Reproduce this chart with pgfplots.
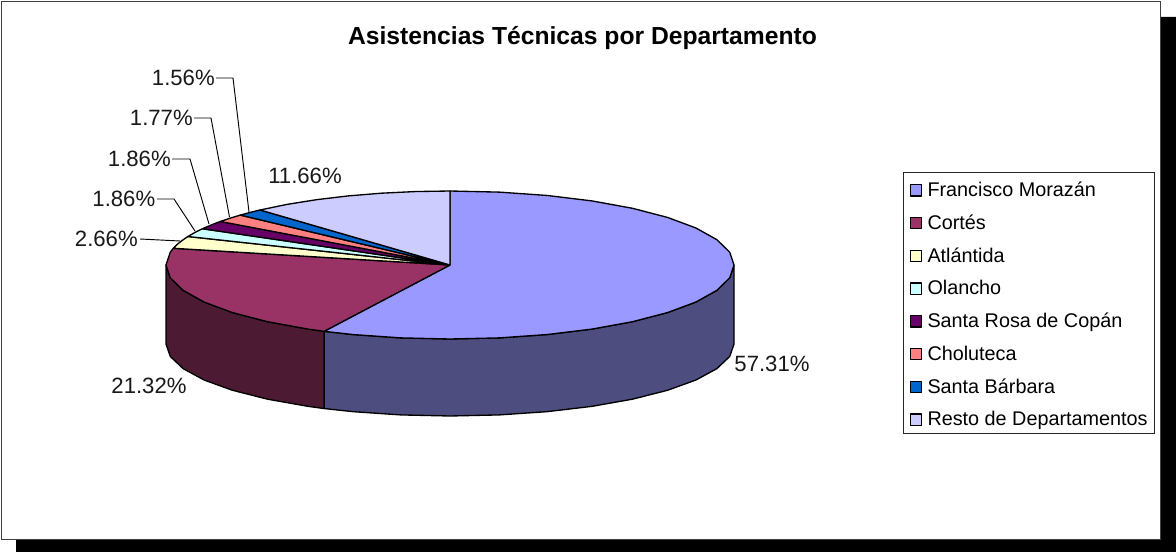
\documentclass[border=0pt]{standalone}
\usepackage{pgfplots}
\pgfplotsset{compat=1.18}
\usepackage{fontspec}
\setmainfont{Liberation Sans}
\definecolor{cFM}{HTML}{9999FF}
\definecolor{cCO}{HTML}{993366}
\definecolor{cAT}{HTML}{FFFFCC}
\definecolor{cOL}{HTML}{CCFFFF}
\definecolor{cSR}{HTML}{660066}
\definecolor{cCH}{HTML}{FF8080}
\definecolor{cSB}{HTML}{0066CC}
\definecolor{cRE}{HTML}{CCCCFF}
\definecolor{dFM}{HTML}{4D4D80}
\definecolor{dCO}{HTML}{4D1A33}
\pgfplotsset{
  /pgfplots/table/topxy/.style={x expr={450+284*\thisrow{r}*sin(\thisrow{a})}, y expr={265-74*\thisrow{r}*cos(\thisrow{a})}},
  /pgfplots/table/sidexy/.style={x expr={450+284*sin(\thisrow{a})}, y expr={265+79*\thisrow{z}-(74-2*\thisrow{z})*cos(\thisrow{a})}},
  slice/.style={fill=#1,draw=black,line width=1pt,line join=round},
  leader/.style={draw=black,line width=0.7pt,forget plot},
}
\tikzset{lab/.style={font=\fontsize{16.6}{18}\selectfont,inner sep=0pt,text=black!90}}
\begin{document}
\begin{tikzpicture}
\begin{axis}[
  scale only axis, width=882pt, height=414pt,
  xmin=0, xmax=1176, ymin=0, ymax=552, y dir=reverse,
  hide axis,
  title={Asistencias Técnicas por Departamento},
  title style={at={(axis cs:582.5,46)},anchor=center,yshift=0pt,inner sep=0pt,font=\fontsize{18.5}{22}\bfseries},
  legend cell align=left,
  legend style={at={(axis cs:902.5,172.5)},anchor=north west,draw=black!85,line width=0.6pt,fill=white,
    font=\fontsize{14.85}{18}\selectfont,row sep=10.05pt,inner xsep=5pt,inner ysep=4.4pt,
    nodes={inner sep=0pt,text height=13.5pt,text depth=1pt,anchor=west}},
  legend image code/.code={\draw[#1,line width=0.9pt] (0pt,-5.7pt) rectangle (8.4pt,2.7pt); \path[draw=none,fill=none] (0pt,0pt) -- (13pt,0pt);},
]
% page, shadow and chart area
\addplot[fill=white,draw=none,forget plot] coordinates {(0,0) (1176,0) (1176,552) (0,552) (0,0)};
\addplot[fill=black,draw=none,forget plot] coordinates {(16,17) (1176,17) (1176,552) (16,552) (16,17)};
\addplot[fill=white,draw=black!75,line width=0.8pt,forget plot] coordinates {(1.5,1.5) (1160.5,1.5) (1160.5,539.5) (1.5,539.5) (1.5,1.5)};
% side walls
\addplot[slice=dFM,forget plot] table[sidexy] {
a z
90 0
100 0
110 0
120 0
130 0
140 0
150 0
160 0
170 0
180 0
190 0
200 0
206.316 0
206.316 1
200 1
190 1
180 1
170 1
160 1
150 1
140 1
130 1
120 1
110 1
100 1
90 1
90 0
};
\addplot[slice=dCO,forget plot] table[sidexy] {
a z
206.316 0
210 0
220 0
230 0
240 0
250 0
260 0
270 0
270 1
260 1
250 1
240 1
230 1
220 1
210 1
206.316 1
206.316 0
};
% top faces
\addplot[slice=cFM] table[topxy] {
a r
0 0
0 1
10 1
20 1
30 1
40 1
50 1
60 1
70 1
80 1
90 1
100 1
110 1
120 1
130 1
140 1
150 1
160 1
170 1
180 1
190 1
200 1
206.316 1
0 0
};
\addlegendentry{Francisco Morazán}
\addplot[slice=cCO] table[topxy] {
a r
0 0
206.316 1
210 1
220 1
230 1
240 1
250 1
260 1
270 1
280 1
283.068 1
0 0
};
\addlegendentry{Cortés}
\addplot[slice=cAT] table[topxy] {
a r
0 0
283.068 1
286 1
289 1
292.644 1
0 0
};
\addlegendentry{Atlántida}
\addplot[slice=cOL] table[topxy] {
a r
0 0
292.644 1
296 1
299.34 1
0 0
};
\addlegendentry{Olancho}
\addplot[slice=cSR] table[topxy] {
a r
0 0
299.34 1
303 1
306.036 1
0 0
};
\addlegendentry{Santa Rosa de Copán}
\addplot[slice=cCH] table[topxy] {
a r
0 0
306.036 1
309 1
312.408 1
0 0
};
\addlegendentry{Choluteca}
\addplot[slice=cSB] table[topxy] {
a r
0 0
312.408 1
315 1
318.024 1
0 0
};
\addlegendentry{Santa Bárbara}
\addplot[slice=cRE] table[topxy] {
a r
0 0
318.024 1
325 1
332 1
339 1
346 1
353 1
360 1
0 0
};
\addlegendentry{Resto de Departamentos}
% leader lines
\addplot[leader] coordinates {(216,78) (233,78) (249,212)};
\addplot[leader] coordinates {(194,118) (211,118) (229.5,217)};
\addplot[leader] coordinates {(172,159) (190,159) (209,224)};
\addplot[leader] coordinates {(157,199) (174,199) (195,231)};
\addplot[leader] coordinates {(140,239) (180,241)};
% labels
\node[lab,anchor=east] at (axis cs:215,78) {1.56\%};
\node[lab,anchor=east] at (axis cs:193,118) {1.77\%};
\node[lab,anchor=east] at (axis cs:171,159) {1.86\%};
\node[lab,anchor=east] at (axis cs:155.5,199) {1.86\%};
\node[lab,anchor=east] at (axis cs:138,239) {2.66\%};
\node[lab,anchor=center] at (axis cs:305,176) {11.66\%};
\node[lab,anchor=center] at (axis cs:772,364) {57.31\%};
\node[lab,anchor=center] at (axis cs:149,386) {21.32\%};
\end{axis}
\end{tikzpicture}
\end{document}
